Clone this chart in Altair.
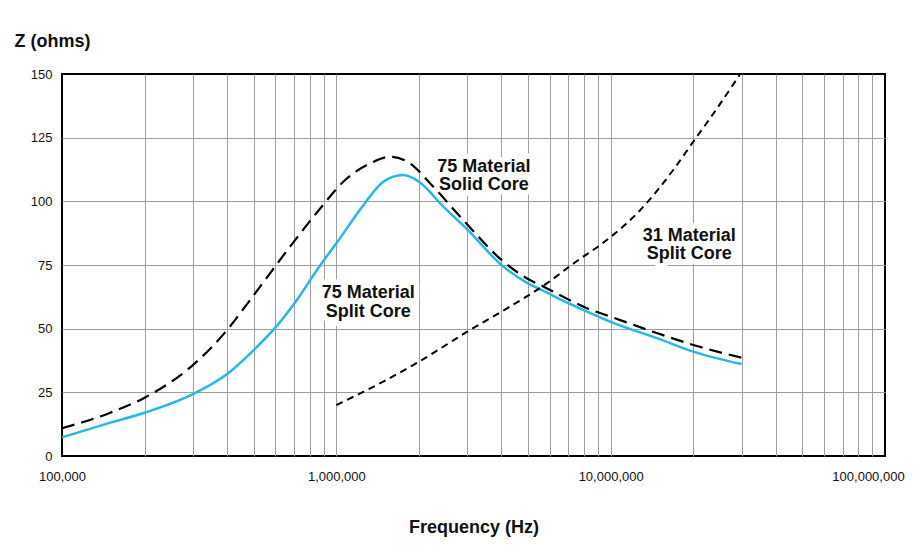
import altair as alt
import pandas as pd

# 75 Material Solid Core (long dashed black)
solid_f = [1e5, 1.5e5, 2e5, 3e5, 4e5, 4.9e5, 6.78e5, 8.84e5, 1.06e6, 1.327e6, 1.57e6,
           1.856e6, 2.196e6, 2.9e6, 4e6, 5e6, 5.7e6, 7e6, 8.2e6, 1e7, 1.5e7,
           2e7, 3e7]
solid_z = [10.9, 17.0, 22.9, 35.7, 49.5, 61.9, 82.2, 97.9, 107.7, 114.9, 117.5,
           114.9, 107.1, 92.7, 77.0, 69.5, 66.5, 61.5, 58.0, 54.7, 48.0,
           43.6, 38.6]

# 75 Material Split Core (solid blue)
split75_f = [1e5, 1.5e5, 2e5, 3e5, 4e5, 5e5, 6e5, 7.17e5, 8.84e5, 1e6, 1.255e6, 1.484e6,
             1.755e6, 2e6, 2.456e6, 3e6, 4e6, 5e6, 5.7e6, 7e6, 8.2e6, 1e7,
             1.5e7, 2e7, 3e7]
split75_z = [7.3, 13.1, 17.0, 24.3, 32.2, 41.6, 50.5, 61.2, 75.7, 83.5, 98.5, 107.7,
             110.3, 107.7, 97.9, 89.0, 75.0, 67.8, 64.8, 60.0, 56.7, 52.7,
             46.0, 41.0, 36.1]

# 31 Material Split Core (short dashed black)
split31_f = [1e6, 1.5e6, 2e6, 3e6, 4e6, 5e6, 5.8e6, 7.3e6, 1e7, 1.28e7, 1.69e7,
             2e7, 2.37e7, 2.95e7]
split31_z = [20.0, 29.5, 37.0, 48.8, 56.7, 63.0, 67.5, 75.5, 86.0, 96.5, 112.3,
             123.4, 134.5, 149.6]

# annotations
label_text = ["75 Material\nSolid Core", "75 Material\nSplit Core", "31 Material\nSplit Core"]
label_f = [3.45e6, 1.308e6, 1.935e7]
label_z = [113.6, 63.9, 86.4]

x_ticks = [k * 10 ** e for e in (5, 6, 7) for k in range(1, 10)] + [10 ** 8]
y_ticks = [0, 25, 50, 75, 100, 125, 150]

FONT = "Liberation Sans"

solid_df = pd.DataFrame({"f": solid_f, "z": solid_z})
split75_df = pd.DataFrame({"f": split75_f, "z": split75_z})
split31_df = pd.DataFrame({"f": split31_f, "z": split31_z})
label_df = pd.DataFrame({"f": label_f, "z": label_z, "t": label_text})

x_enc = alt.X(
    "f:Q",
    scale=alt.Scale(type="log", domain=[1e5, 1e8], nice=False),
    axis=alt.Axis(
        values=x_ticks,
        labelExpr="indexof([100000, 1000000, 10000000, 100000000], datum.value) >= 0 ? format(datum.value, ',') : ''",
        labelOverlap=False,
        labelFlush=False,
        labelBound=False,
        labelFont=FONT,
        labelFontSize=13,
        labelColor="#111111",
        labelPadding=14,
        labelOffset=alt.condition("datum.value == 100000000", alt.value(-17), alt.value(0)),
        ticks=False,
        tickSize=0,
        domain=False,
        grid=True,
        gridColor="#9e9e9e",
        gridWidth=1,
        gridOpacity=alt.condition("datum.value == 100000 || datum.value == 100000000", alt.value(0), alt.value(1)),
        title="Frequency (Hz)",
        titleFont=FONT,
        titleFontSize=18,
        titleFontWeight="bold",
        titleColor="#111111",
        titleAlign="center",
        titleBaseline="alphabetic",
        titleX=411.5,
        titleY=76,
    ),
)

y_enc = alt.Y(
    "z:Q",
    scale=alt.Scale(domain=[0, 150], nice=False),
    axis=alt.Axis(
        values=y_ticks,
        labelFont=FONT,
        labelFontSize=13,
        labelColor="#111111",
        labelPadding=10,
        ticks=False,
        tickSize=0,
        domain=False,
        grid=True,
        gridColor="#9e9e9e",
        gridWidth=1,
        gridOpacity=alt.condition("datum.value == 0 || datum.value == 150", alt.value(0), alt.value(1)),
        title="Z (ohms)",
        titleFont=FONT,
        titleFontSize=18,
        titleFontWeight="bold",
        titleColor="#111111",
        titleAngle=0,
        titleAlign="left",
        titleBaseline="alphabetic",
        titleX=-48,
        titleY=-27.5,
    ),
)

halo = alt.Chart(label_df).mark_text(
    font=FONT, fontSize=18, fontWeight="bold", lineBreak="\n", lineHeight=18.5,
    align="center", baseline="middle", fill="white", stroke="white",
    strokeWidth=11, strokeJoin="round",
).encode(x=x_enc, y=y_enc, text="t:N")

solid = alt.Chart(solid_df).mark_line(
    color="black", strokeWidth=2.2, strokeDash=[13, 7], interpolate="monotone"
).encode(x=x_enc, y=y_enc)

split75 = alt.Chart(split75_df).mark_line(
    color="#29B5E8", strokeWidth=2.5, interpolate="monotone"
).encode(x=x_enc, y=y_enc)

split31 = alt.Chart(split31_df).mark_line(
    color="black", strokeWidth=2.0, strokeDash=[7, 5], interpolate="monotone"
).encode(x=x_enc, y=y_enc)

labels = alt.Chart(label_df).mark_text(
    font=FONT, fontSize=18, fontWeight="bold", lineBreak="\n", lineHeight=18.5,
    align="center", baseline="middle", color="#111111",
).encode(x=x_enc, y=y_enc, text="t:N")

chart = alt.layer(halo, solid, split75, split31, labels).properties(
    width=823,
    height=382,
    autosize=alt.AutoSizeParams(type="none"),
    padding={"left": 54, "top": 66, "right": 26, "bottom": 90},
    background="white",
).configure_view(stroke="black", strokeWidth=2)

chart.save("out.html", embed_options={"renderer": "svg", "actions": False})
